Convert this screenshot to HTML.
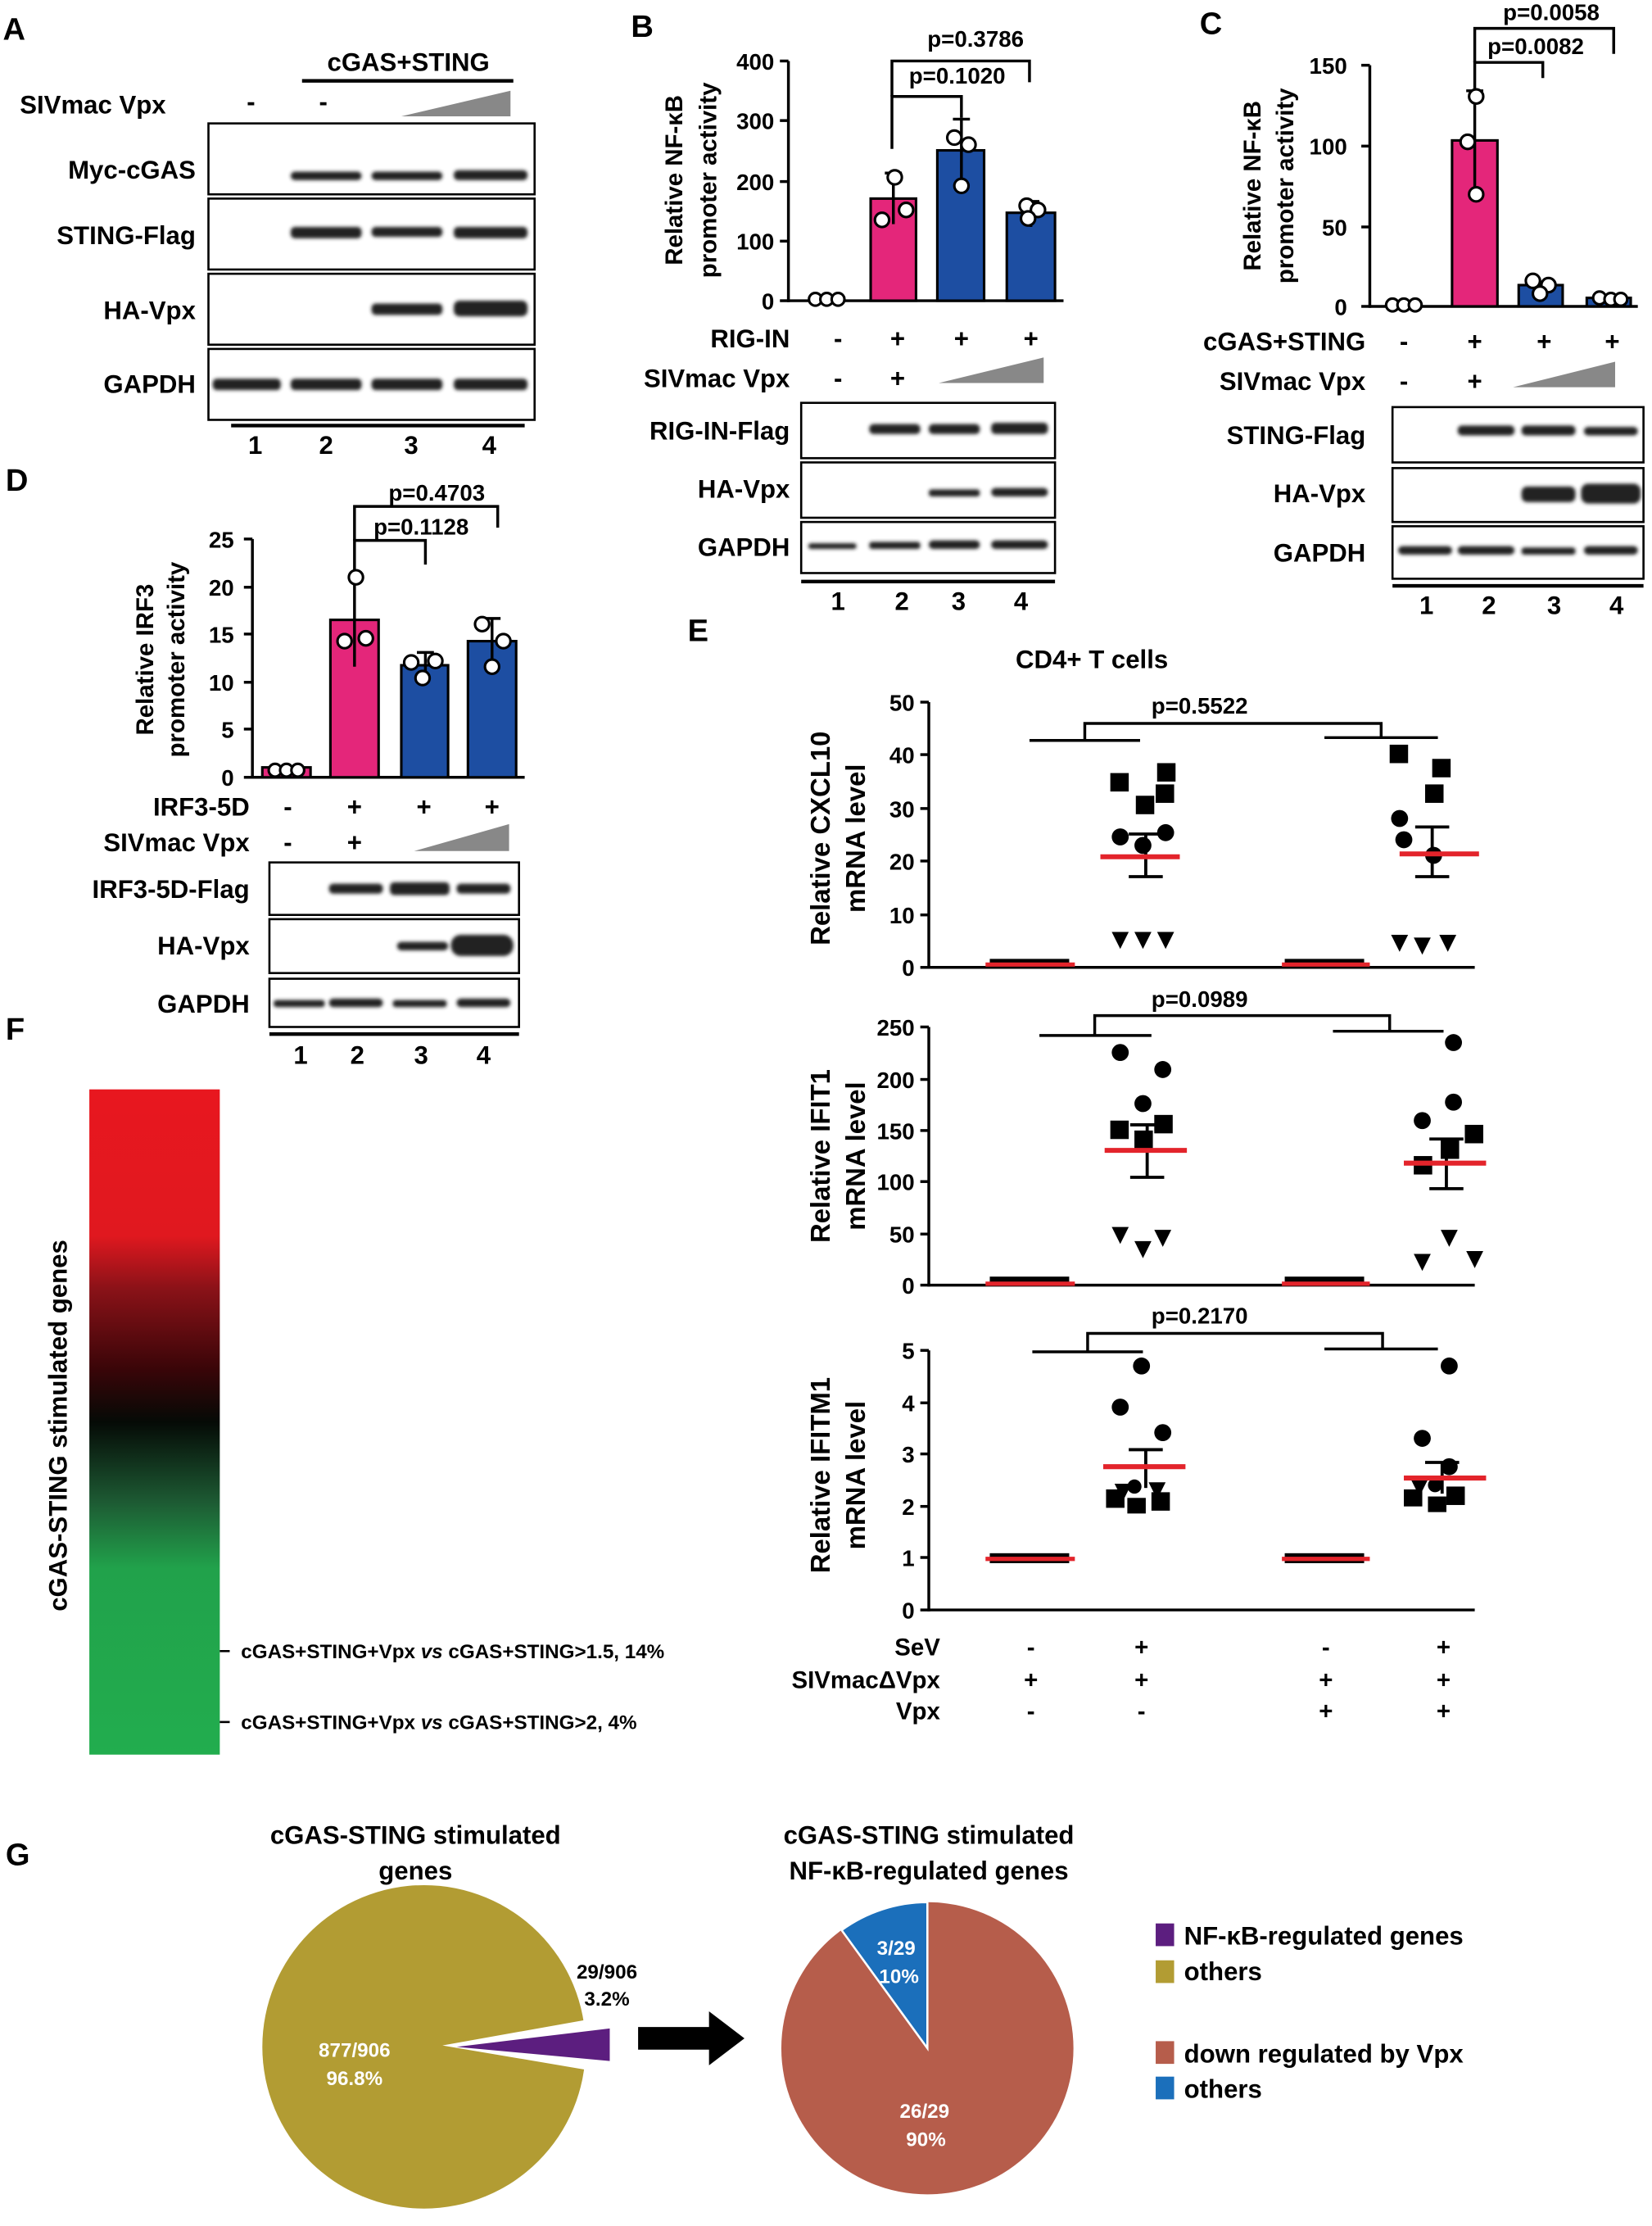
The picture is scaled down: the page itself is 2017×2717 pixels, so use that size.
<!DOCTYPE html>
<html><head><meta charset="utf-8"><style>
html,body{margin:0;padding:0;background:#fff}
svg{display:block}
text{font-family:"Liberation Sans",sans-serif;font-weight:bold;fill:#000}
</style></head><body>
<svg width="2017" height="2717" viewBox="0 0 1165 1569.3" preserveAspectRatio="none" xmlns="http://www.w3.org/2000/svg">
<rect width="1165" height="1569.3" fill="#fff"/>
<defs>
<linearGradient id="hg" x1="0" y1="0" x2="0" y2="1">
<stop offset="0" stop-color="#e8171f"/>
<stop offset="0.22" stop-color="#e0181f"/>
<stop offset="0.3" stop-color="#8a1218"/>
<stop offset="0.42" stop-color="#3a0508"/>
<stop offset="0.5" stop-color="#050a06"/>
<stop offset="0.62" stop-color="#1d5a33"/>
<stop offset="0.72" stop-color="#21a24b"/>
<stop offset="1" stop-color="#22ad4e"/>
</linearGradient>
<filter id="bl"><feGaussianBlur stdDeviation="1.2"/></filter>
</defs>

<!-- Panel A -->
<text x="2" y="28" font-size="22">A</text>
<text x="288" y="50" font-size="18" text-anchor="middle">cGAS+STING</text>
<line x1="213" y1="57" x2="362" y2="57" stroke="#000" stroke-width="2.5"/>
<text x="14" y="80" font-size="18">SIVmac Vpx</text>
<text x="177" y="78" font-size="18" text-anchor="middle">-</text>
<text x="228" y="78" font-size="18" text-anchor="middle">-</text>
<polygon points="283,82 360,64 360,82" fill="#888"/>
<g fill="#fff" stroke="#000" stroke-width="1.5">
<rect x="147" y="87" width="230" height="50"/><rect x="147" y="140" width="230" height="50"/>
<rect x="147" y="193" width="230" height="50"/><rect x="147" y="246" width="230" height="50"/>
</g>
<g font-size="18" text-anchor="end">
<text x="138" y="126">Myc-cGAS</text><text x="138" y="172">STING-Flag</text>
<text x="138" y="225">HA-Vpx</text><text x="138" y="277">GAPDH</text>
</g>
<g fill="#222" filter="url(#bl)">
<rect x="205" y="121" width="50" height="6" rx="3"/><rect x="262" y="121" width="50" height="6" rx="3"/><rect x="320" y="120" width="52" height="7" rx="3"/>
<rect x="205" y="160" width="50" height="8" rx="3"/><rect x="262" y="160" width="50" height="7" rx="3"/><rect x="320" y="160" width="52" height="8" rx="3"/>
<rect x="262" y="214" width="50" height="8" rx="3"/><rect x="320" y="212" width="52" height="11" rx="4"/>
<rect x="150" y="267" width="48" height="8" rx="3"/><rect x="205" y="267" width="50" height="8" rx="3"/><rect x="262" y="267" width="50" height="8" rx="3"/><rect x="320" y="267" width="52" height="8" rx="3"/>
</g>
<line x1="163" y1="300" x2="370" y2="300" stroke="#000" stroke-width="2.5"/>
<g font-size="18" text-anchor="middle"><text x="180" y="320">1</text><text x="230" y="320">2</text><text x="290" y="320">3</text><text x="345" y="320">4</text></g>

<!-- Panel B -->
<text x="445" y="26" font-size="22">B</text>
<g stroke="#000" stroke-width="2" fill="none">
<line x1="556" y1="43" x2="556" y2="213"/><line x1="556" y1="212" x2="750" y2="212"/>
<line x1="550" y1="43" x2="556" y2="43"/><line x1="550" y1="85" x2="556" y2="85"/><line x1="550" y1="128" x2="556" y2="128"/><line x1="550" y1="170" x2="556" y2="170"/><line x1="550" y1="212" x2="556" y2="212"/>
</g>
<g font-size="16" text-anchor="end"><text x="546" y="49">400</text><text x="546" y="91">300</text><text x="546" y="134">200</text><text x="546" y="176">100</text><text x="546" y="218">0</text></g>
<text transform="translate(481,127) rotate(-90)" font-size="17" text-anchor="middle">Relative NF-κB</text>
<text transform="translate(505,127) rotate(-90)" font-size="17" text-anchor="middle">promoter activity</text>
<g stroke="#000" stroke-width="1.8">
<rect x="614" y="140" width="32" height="72" fill="#e4267a"/>
<rect x="661" y="106" width="33" height="106" fill="#1d4ea2"/>
<rect x="710" y="150" width="34" height="62" fill="#1d4ea2"/>
</g>
<g stroke="#000" stroke-width="2" fill="none">
<line x1="630" y1="122" x2="630" y2="158"/><line x1="624" y1="122" x2="636" y2="122"/>
<line x1="678" y1="84" x2="678" y2="128"/><line x1="672" y1="84" x2="684" y2="84"/>
<line x1="727" y1="142" x2="727" y2="160"/><line x1="721" y1="142" x2="733" y2="142"/>
<polyline points="629,105 629,68 678,68 678,83"/>
<polyline points="629,68 629,43 726,43 726,58"/>
</g>
<g fill="#fff" stroke="#000" stroke-width="1.8">
<circle cx="575" cy="211" r="4.5"/><circle cx="583" cy="211" r="4.5"/><circle cx="591" cy="211" r="4.5"/>
<circle cx="631" cy="125" r="5"/><circle cx="622" cy="155" r="5"/><circle cx="639" cy="148" r="5"/>
<circle cx="673" cy="97" r="5"/><circle cx="683" cy="102" r="5"/><circle cx="678" cy="131" r="5"/>
<circle cx="724" cy="145" r="5"/><circle cx="732" cy="148" r="5"/><circle cx="725" cy="154" r="5"/>
</g>
<text x="688" y="33" font-size="16" text-anchor="middle">p=0.3786</text>
<text x="675" y="59" font-size="16" text-anchor="middle">p=0.1020</text>
<g font-size="18">
<text x="557" y="245" text-anchor="end">RIG-IN</text><text x="557" y="273" text-anchor="end">SIVmac Vpx</text>
<text x="591" y="245" text-anchor="middle">-</text><text x="633" y="245" text-anchor="middle">+</text><text x="678" y="245" text-anchor="middle">+</text><text x="727" y="245" text-anchor="middle">+</text>
<text x="591" y="273" text-anchor="middle">-</text><text x="633" y="273" text-anchor="middle">+</text>
</g>
<polygon points="662,270 736,252 736,270" fill="#888"/>
<g fill="#fff" stroke="#000" stroke-width="1.5">
<rect x="565" y="284" width="179" height="39"/><rect x="565" y="326" width="179" height="39"/><rect x="565" y="368" width="179" height="36"/>
</g>
<g font-size="18" text-anchor="end"><text x="557" y="310">RIG-IN-Flag</text><text x="557" y="351">HA-Vpx</text><text x="557" y="392">GAPDH</text></g>
<g fill="#222" filter="url(#bl)">
<rect x="613" y="299" width="36" height="7" rx="3"/><rect x="655" y="299" width="36" height="7" rx="3"/><rect x="699" y="298" width="40" height="8" rx="3"/>
<rect x="655" y="345" width="36" height="5" rx="2"/><rect x="699" y="344" width="40" height="6" rx="3"/>
<rect x="570" y="383" width="34" height="4" rx="2"/><rect x="613" y="382" width="36" height="5" rx="2"/><rect x="655" y="381" width="36" height="6" rx="3"/><rect x="699" y="381" width="40" height="6" rx="3"/>
</g>
<line x1="565" y1="410" x2="744" y2="410" stroke="#000" stroke-width="2.5"/>
<g font-size="18" text-anchor="middle"><text x="591" y="430">1</text><text x="636" y="430">2</text><text x="676" y="430">3</text><text x="720" y="430">4</text></g>

<!-- Panel C -->
<text x="846" y="24" font-size="22">C</text>
<g stroke="#000" stroke-width="2" fill="none">
<line x1="966" y1="46" x2="966" y2="217"/><line x1="966" y1="216" x2="1155" y2="216"/>
<line x1="960" y1="46" x2="966" y2="46"/><line x1="960" y1="103" x2="966" y2="103"/><line x1="960" y1="160" x2="966" y2="160"/><line x1="960" y1="216" x2="966" y2="216"/>
</g>
<g font-size="16" text-anchor="end"><text x="950" y="52">150</text><text x="950" y="109">100</text><text x="950" y="166">50</text><text x="950" y="222">0</text></g>
<text transform="translate(889,131) rotate(-90)" font-size="17" text-anchor="middle">Relative NF-κB</text>
<text transform="translate(912,131) rotate(-90)" font-size="17" text-anchor="middle">promoter activity</text>
<g stroke="#000" stroke-width="1.8">
<rect x="1024" y="99" width="32" height="117" fill="#e4267a"/>
<rect x="1071" y="201" width="31" height="15" fill="#1d4ea2"/>
<rect x="1119" y="210" width="31" height="6" fill="#1d4ea2"/>
</g>
<g stroke="#000" stroke-width="2" fill="none">
<line x1="1040" y1="64" x2="1040" y2="136"/><line x1="1034" y1="64" x2="1046" y2="64"/>
<polyline points="1040,72 1040,44 1088,44 1088,55"/>
<polyline points="1040,44 1040,20 1138,20 1138,38"/>
</g>
<g fill="#fff" stroke="#000" stroke-width="1.8">
<circle cx="982" cy="215" r="4.5"/><circle cx="990" cy="215" r="4.5"/><circle cx="998" cy="215" r="4.5"/>
<circle cx="1041" cy="68" r="5"/><circle cx="1035" cy="100" r="5"/><circle cx="1041" cy="137" r="5"/>
<circle cx="1081" cy="198" r="5"/><circle cx="1092" cy="201" r="5"/><circle cx="1086" cy="207" r="5"/>
<circle cx="1128" cy="210" r="4.5"/><circle cx="1136" cy="211" r="4.5"/><circle cx="1143" cy="211" r="4.5"/>
</g>
<text x="1094" y="14" font-size="16" text-anchor="middle">p=0.0058</text>
<text x="1083" y="38" font-size="16" text-anchor="middle">p=0.0082</text>
<g font-size="18">
<text x="963" y="247" text-anchor="end">cGAS+STING</text><text x="963" y="275" text-anchor="end">SIVmac Vpx</text>
<text x="990" y="247" text-anchor="middle">-</text><text x="1040" y="247" text-anchor="middle">+</text><text x="1089" y="247" text-anchor="middle">+</text><text x="1137" y="247" text-anchor="middle">+</text>
<text x="990" y="275" text-anchor="middle">-</text><text x="1040" y="275" text-anchor="middle">+</text>
</g>
<polygon points="1067,273 1139,255 1139,273" fill="#888"/>
<g fill="#fff" stroke="#000" stroke-width="1.5">
<rect x="982" y="287" width="177" height="39"/><rect x="982" y="330" width="177" height="38"/><rect x="982" y="371" width="177" height="37"/>
</g>
<g font-size="18" text-anchor="end"><text x="963" y="313">STING-Flag</text><text x="963" y="354">HA-Vpx</text><text x="963" y="396">GAPDH</text></g>
<g fill="#222" filter="url(#bl)">
<rect x="1028" y="300" width="40" height="7" rx="3"/><rect x="1073" y="300" width="38" height="7" rx="3"/><rect x="1117" y="301" width="38" height="6" rx="3"/>
<rect x="1073" y="343" width="38" height="11" rx="4"/><rect x="1115" y="341" width="42" height="14" rx="5"/>
<rect x="986" y="385" width="38" height="6" rx="3"/><rect x="1028" y="385" width="40" height="6" rx="3"/><rect x="1073" y="386" width="38" height="5" rx="2"/><rect x="1117" y="385" width="38" height="6" rx="3"/>
</g>
<line x1="982" y1="413" x2="1159" y2="413" stroke="#000" stroke-width="2.5"/>
<g font-size="18" text-anchor="middle"><text x="1006" y="433">1</text><text x="1050" y="433">2</text><text x="1096" y="433">3</text><text x="1140" y="433">4</text></g>

<!-- Panel D -->
<text x="4" y="346" font-size="22">D</text>
<g stroke="#000" stroke-width="2" fill="none">
<line x1="178" y1="380" x2="178" y2="549"/><line x1="178" y1="548" x2="370" y2="548"/>
<line x1="172" y1="380" x2="178" y2="380"/><line x1="172" y1="414" x2="178" y2="414"/><line x1="172" y1="447" x2="178" y2="447"/><line x1="172" y1="481" x2="178" y2="481"/><line x1="172" y1="514" x2="178" y2="514"/><line x1="172" y1="548" x2="178" y2="548"/>
</g>
<g font-size="16" text-anchor="end"><text x="165" y="386">25</text><text x="165" y="420">20</text><text x="165" y="453">15</text><text x="165" y="487">10</text><text x="165" y="520">5</text><text x="165" y="554">0</text></g>
<text transform="translate(108,465) rotate(-90)" font-size="17" text-anchor="middle">Relative IRF3</text>
<text transform="translate(130,465) rotate(-90)" font-size="17" text-anchor="middle">promoter activity</text>
<g stroke="#000" stroke-width="1.8">
<rect x="185" y="541" width="34" height="7" fill="#e4267a"/>
<rect x="233" y="437" width="34" height="111" fill="#e4267a"/>
<rect x="283" y="469" width="33" height="79" fill="#1d4ea2"/>
<rect x="330" y="452" width="34" height="96" fill="#1d4ea2"/>
</g>
<g stroke="#000" stroke-width="2" fill="none">
<line x1="250" y1="404" x2="250" y2="470"/>
<line x1="300" y1="460" x2="300" y2="478"/><line x1="294" y1="460" x2="306" y2="460"/>
<line x1="347" y1="436" x2="347" y2="468"/><line x1="341" y1="436" x2="353" y2="436"/>
<polyline points="250,403 250,381 300,381 300,398"/>
<polyline points="250,381 250,357 351,357 351,372"/>
</g>
<g fill="#fff" stroke="#000" stroke-width="1.8">
<circle cx="194" cy="543" r="4.5"/><circle cx="202" cy="543" r="4.5"/><circle cx="210" cy="543" r="4.5"/>
<circle cx="251" cy="407" r="5"/><circle cx="243" cy="452" r="5"/><circle cx="258" cy="450" r="5"/>
<circle cx="290" cy="467" r="5"/><circle cx="307" cy="466" r="5"/><circle cx="298" cy="478" r="5"/>
<circle cx="340" cy="440" r="5"/><circle cx="355" cy="452" r="5"/><circle cx="347" cy="470" r="5"/>
</g>
<text x="308" y="353" font-size="16" text-anchor="middle">p=0.4703</text>
<text x="297" y="377" font-size="16" text-anchor="middle">p=0.1128</text>
<g font-size="18">
<text x="176" y="575" text-anchor="end">IRF3-5D</text><text x="176" y="600" text-anchor="end">SIVmac Vpx</text>
<text x="203" y="575" text-anchor="middle">-</text><text x="250" y="575" text-anchor="middle">+</text><text x="299" y="575" text-anchor="middle">+</text><text x="347" y="575" text-anchor="middle">+</text>
<text x="203" y="600" text-anchor="middle">-</text><text x="250" y="600" text-anchor="middle">+</text>
</g>
<polygon points="292,600 359,581 359,600" fill="#888"/>
<g fill="#fff" stroke="#000" stroke-width="1.5">
<rect x="190" y="608" width="176" height="37"/><rect x="190" y="648" width="176" height="38"/><rect x="190" y="690" width="176" height="34"/>
</g>
<g font-size="18" text-anchor="end"><text x="176" y="633">IRF3-5D-Flag</text><text x="176" y="673">HA-Vpx</text><text x="176" y="714">GAPDH</text></g>
<g fill="#222" filter="url(#bl)">
<rect x="232" y="623" width="38" height="7" rx="3"/><rect x="275" y="622" width="42" height="9" rx="3"/><rect x="322" y="623" width="38" height="7" rx="3"/>
<rect x="280" y="664" width="36" height="6" rx="3"/><rect x="318" y="659" width="44" height="15" rx="7"/>
<rect x="193" y="705" width="36" height="5" rx="2"/><rect x="232" y="704" width="38" height="6" rx="3"/><rect x="277" y="705" width="38" height="5" rx="2"/><rect x="322" y="704" width="38" height="6" rx="3"/>
</g>
<line x1="190" y1="729" x2="366" y2="729" stroke="#000" stroke-width="2.5"/>
<g font-size="18" text-anchor="middle"><text x="212" y="750">1</text><text x="252" y="750">2</text><text x="297" y="750">3</text><text x="341" y="750">4</text></g>

<!-- Panel E -->
<text x="485" y="452" font-size="22">E</text>
<text x="770" y="471" font-size="18" text-anchor="middle">CD4+ T cells</text>
<g stroke="#000" stroke-width="2" fill="none">
<line x1="655" y1="495" x2="655" y2="683"/><line x1="655" y1="682" x2="1040" y2="682"/>
<line x1="649" y1="495" x2="655" y2="495"/><line x1="649" y1="532" x2="655" y2="532"/><line x1="649" y1="570" x2="655" y2="570"/><line x1="649" y1="607" x2="655" y2="607"/><line x1="649" y1="645" x2="655" y2="645"/><line x1="649" y1="682" x2="655" y2="682"/>
<polyline points="726,522 804,522"/><polyline points="765,522 765,510 974,510 974,520"/><polyline points="934,520 1014,520"/>
</g>
<g font-size="16" text-anchor="end"><text x="645" y="501">50</text><text x="645" y="538">40</text><text x="645" y="576">30</text><text x="645" y="613">20</text><text x="645" y="651">10</text><text x="645" y="688">0</text></g>
<text x="846" y="503" font-size="16" text-anchor="middle">p=0.5522</text>
<text transform="translate(585,591) rotate(-90)" font-size="19" text-anchor="middle">Relative CXCL10</text>
<text transform="translate(610,591) rotate(-90)" font-size="19" text-anchor="middle">mRNA level</text>
<g stroke="#000" stroke-width="2" fill="none">
<line x1="655" y1="724" x2="655" y2="907"/><line x1="655" y1="906" x2="1040" y2="906"/>
<line x1="649" y1="724" x2="655" y2="724"/><line x1="649" y1="761" x2="655" y2="761"/><line x1="649" y1="797" x2="655" y2="797"/><line x1="649" y1="833" x2="655" y2="833"/><line x1="649" y1="870" x2="655" y2="870"/><line x1="649" y1="906" x2="655" y2="906"/>
<polyline points="733,730 812,730"/><polyline points="772,730 772,716 980,716 980,727"/><polyline points="940,727 1018,727"/>
</g>
<g font-size="16" text-anchor="end"><text x="645" y="730">250</text><text x="645" y="767">200</text><text x="645" y="803">150</text><text x="645" y="839">100</text><text x="645" y="876">50</text><text x="645" y="912">0</text></g>
<text x="846" y="710" font-size="16" text-anchor="middle">p=0.0989</text>
<text transform="translate(585,815) rotate(-90)" font-size="19" text-anchor="middle">Relative IFIT1</text>
<text transform="translate(610,815) rotate(-90)" font-size="19" text-anchor="middle">mRNA level</text>
<g stroke="#000" stroke-width="2" fill="none">
<line x1="655" y1="952" x2="655" y2="1136"/><line x1="655" y1="1135" x2="1040" y2="1135"/>
<line x1="649" y1="952" x2="655" y2="952"/><line x1="649" y1="989" x2="655" y2="989"/><line x1="649" y1="1025" x2="655" y2="1025"/><line x1="649" y1="1062" x2="655" y2="1062"/><line x1="649" y1="1098" x2="655" y2="1098"/><line x1="649" y1="1135" x2="655" y2="1135"/>
<polyline points="728,953 806,953"/><polyline points="767,953 767,940 975,940 975,951"/><polyline points="934,951 1014,951"/>
</g>
<g font-size="16" text-anchor="end"><text x="645" y="958">5</text><text x="645" y="995">4</text><text x="645" y="1031">3</text><text x="645" y="1068">2</text><text x="645" y="1104">1</text><text x="645" y="1141">0</text></g>
<text x="846" y="933" font-size="16" text-anchor="middle">p=0.2170</text>
<text transform="translate(585,1040) rotate(-90)" font-size="19" text-anchor="middle">Relative IFITM1</text>
<text transform="translate(610,1040) rotate(-90)" font-size="19" text-anchor="middle">mRNA level</text>

<g fill="#000">
<rect x="698" y="676" width="56" height="4"/><rect x="906" y="676" width="56" height="4"/>
<rect x="698" y="900" width="56" height="4"/><rect x="906" y="900" width="56" height="4"/>
<rect x="698" y="1095" width="56" height="7"/><rect x="906" y="1095" width="56" height="7"/>
</g>
<g stroke="#e3242b" stroke-width="3">
<line x1="695" y1="680" x2="758" y2="680"/><line x1="904" y1="680" x2="966" y2="680"/>
<line x1="695" y1="905" x2="758" y2="905"/><line x1="904" y1="905" x2="966" y2="905"/>
<line x1="695" y1="1099" x2="758" y2="1099"/><line x1="904" y1="1099" x2="966" y2="1099"/>
</g>
<g fill="#000">
<rect x="783" y="545" width="13" height="13"/><rect x="815" y="553" width="13" height="13"/><rect x="816" y="538" width="13" height="13"/><rect x="801" y="561" width="13" height="13"/>
<circle cx="790" cy="590" r="6"/><circle cx="822" cy="587" r="6"/><circle cx="806" cy="596" r="6"/>
<polygon points="784,657 796,657 790,669"/><polygon points="800,657 812,657 806,669"/><polygon points="816,657 828,657 822,669"/>
<rect x="980" y="525" width="13" height="13"/><rect x="1010" y="535" width="13" height="13"/><rect x="1005" y="553" width="13" height="13"/>
<circle cx="987" cy="577" r="6"/><circle cx="990" cy="592" r="6"/><circle cx="1011" cy="603" r="6"/>
<polygon points="981,659 993,659 987,671"/><polygon points="997,661 1009,661 1003,673"/><polygon points="1015,659 1027,659 1021,671"/>
</g>
<g fill="#000">
<circle cx="790" cy="742" r="6"/><circle cx="820" cy="754" r="6"/><circle cx="806" cy="778" r="6"/>
<rect x="783" y="790" width="13" height="13"/><rect x="814" y="786" width="13" height="13"/><rect x="800" y="797" width="13" height="13"/>
<polygon points="784,865 796,865 790,877"/><polygon points="800,875 812,875 806,887"/><polygon points="814,867 826,867 820,879"/>
<circle cx="1025" cy="735" r="6"/><circle cx="1025" cy="777" r="6"/><circle cx="1003" cy="790" r="6"/>
<rect x="1033" y="793" width="13" height="13"/><rect x="1016" y="804" width="13" height="13"/><rect x="997" y="815" width="13" height="13"/>
<polygon points="1016,867 1028,867 1022,879"/><polygon points="997,884 1009,884 1003,896"/><polygon points="1034,882 1046,882 1040,894"/>
</g>
<g fill="#000">
<circle cx="805" cy="963" r="6"/><circle cx="790" cy="992" r="6"/><circle cx="820" cy="1010" r="6"/>
<rect x="780" y="1050" width="13" height="13"/><rect x="795" y="1056" width="13" height="11"/><rect x="812" y="1052" width="13" height="13"/>
<polygon points="786,1046 798,1046 792,1058"/><polygon points="810,1045 822,1045 816,1057"/><circle cx="800" cy="1048" r="5"/>
<circle cx="1022" cy="963" r="6"/><circle cx="1003" cy="1014" r="6"/><circle cx="1022" cy="1034" r="6"/>
<rect x="990" y="1050" width="13" height="12"/><rect x="1007" y="1055" width="13" height="11"/><rect x="1020" y="1048" width="13" height="13"/>
<polygon points="995,1043 1007,1043 1001,1055"/><circle cx="1012" cy="1047" r="5"/>
</g>
<g stroke="#000" stroke-width="2.2" fill="none">
<polyline points="796,588 820,588"/><line x1="808" y1="588" x2="808" y2="618"/><line x1="796" y1="618" x2="820" y2="618"/>
<polyline points="998,583 1022,583"/><line x1="1010" y1="583" x2="1010" y2="618"/><line x1="998" y1="618" x2="1022" y2="618"/>
<line x1="797" y1="793" x2="821" y2="793"/><line x1="809" y1="793" x2="809" y2="830"/><line x1="797" y1="830" x2="821" y2="830"/>
<line x1="1008" y1="803" x2="1032" y2="803"/><line x1="1020" y1="803" x2="1020" y2="838"/><line x1="1008" y1="838" x2="1032" y2="838"/>
<line x1="796" y1="1022" x2="820" y2="1022"/><line x1="808" y1="1022" x2="808" y2="1049"/>
<line x1="1005" y1="1031" x2="1029" y2="1031"/><line x1="1017" y1="1031" x2="1017" y2="1053"/>
</g>
<g stroke="#e3242b" stroke-width="3.5">
<line x1="776" y1="604" x2="832" y2="604"/><line x1="987" y1="602" x2="1043" y2="602"/>
<line x1="779" y1="811" x2="837" y2="811"/><line x1="990" y1="820" x2="1048" y2="820"/>
<line x1="778" y1="1034" x2="836" y2="1034"/><line x1="990" y1="1042" x2="1048" y2="1042"/>
</g>
<g font-size="17">
<text x="663" y="1167" text-anchor="end">SeV</text><text x="663" y="1190" text-anchor="end">SIVmacΔVpx</text><text x="663" y="1212" text-anchor="end">Vpx</text>
<g text-anchor="middle">
<text x="727" y="1167">-</text><text x="805" y="1167">+</text><text x="935" y="1167">-</text><text x="1018" y="1167">+</text>
<text x="727" y="1190">+</text><text x="805" y="1190">+</text><text x="935" y="1190">+</text><text x="1018" y="1190">+</text>
<text x="727" y="1212">-</text><text x="805" y="1212">-</text><text x="935" y="1212">+</text><text x="1018" y="1212">+</text>
</g></g>

<!-- Panel F -->
<text x="4" y="733" font-size="22">F</text>
<rect x="63" y="768" width="92" height="469" fill="url(#hg)"/>
<text transform="translate(47,1005) rotate(-90)" font-size="18" text-anchor="middle">cGAS-STING stimulated genes</text>
<line x1="155" y1="1164" x2="162" y2="1164" stroke="#000" stroke-width="1.5"/>
<line x1="155" y1="1214" x2="162" y2="1214" stroke="#000" stroke-width="1.5"/>
<text x="170" y="1169" font-size="14">cGAS+STING+Vpx <tspan font-style="italic">vs</tspan> cGAS+STING&gt;1.5, 14%</text>
<text x="170" y="1219" font-size="14">cGAS+STING+Vpx <tspan font-style="italic">vs</tspan> cGAS+STING&gt;2, 4%</text>

<!-- Panel G -->
<text x="4" y="1315" font-size="22">G</text>
<text x="293" y="1300" font-size="18" text-anchor="middle">cGAS-STING stimulated</text>
<text x="293" y="1325" font-size="18" text-anchor="middle">genes</text>
<circle cx="299" cy="1443" r="114" fill="#b29c33"/>
<polygon points="312,1442 430,1421 430,1462" fill="#fff"/>
<polygon points="322,1443 430,1430 430,1453" fill="#5c1e7f"/>
<text x="250" y="1450" font-size="14" text-anchor="middle" style="fill:#fff">877/906</text>
<text x="250" y="1470" font-size="14" text-anchor="middle" style="fill:#fff">96.8%</text>
<text x="428" y="1395" font-size="14" text-anchor="middle">29/906</text>
<text x="428" y="1414" font-size="14" text-anchor="middle">3.2%</text>
<polygon points="450,1429 500,1429 500,1418 525,1437 500,1456 500,1445 450,1445" fill="#000"/>
<text x="655" y="1300" font-size="18" text-anchor="middle">cGAS-STING stimulated</text>
<text x="655" y="1325" font-size="18" text-anchor="middle">NF-κB-regulated genes</text>
<circle cx="654" cy="1444" r="103" fill="#b65d4b"/>
<path d="M654,1444 L654,1341 A103,103 0 0,0 593.5,1360.7 Z" fill="#1b6fbb" stroke="#fff" stroke-width="1.5"/>
<text x="632" y="1378" font-size="14" text-anchor="middle" style="fill:#fff">3/29</text>
<text x="634" y="1398" font-size="14" text-anchor="middle" style="fill:#fff">10%</text>
<text x="652" y="1493" font-size="14" text-anchor="middle" style="fill:#fff">26/29</text>
<text x="653" y="1513" font-size="14" text-anchor="middle" style="fill:#fff">90%</text>
<rect x="815" y="1356" width="13" height="16" fill="#5c1e7f"/><text x="835" y="1371" font-size="18">NF-κB-regulated genes</text>
<rect x="815" y="1382" width="13" height="16" fill="#b29c33"/><text x="835" y="1396" font-size="18">others</text>
<rect x="815" y="1439" width="13" height="16" fill="#b65d4b"/><text x="835" y="1454" font-size="18">down regulated by Vpx</text>
<rect x="815" y="1464" width="13" height="16" fill="#1b6fbb"/><text x="835" y="1479" font-size="18">others</text>
</svg>
</body></html>
